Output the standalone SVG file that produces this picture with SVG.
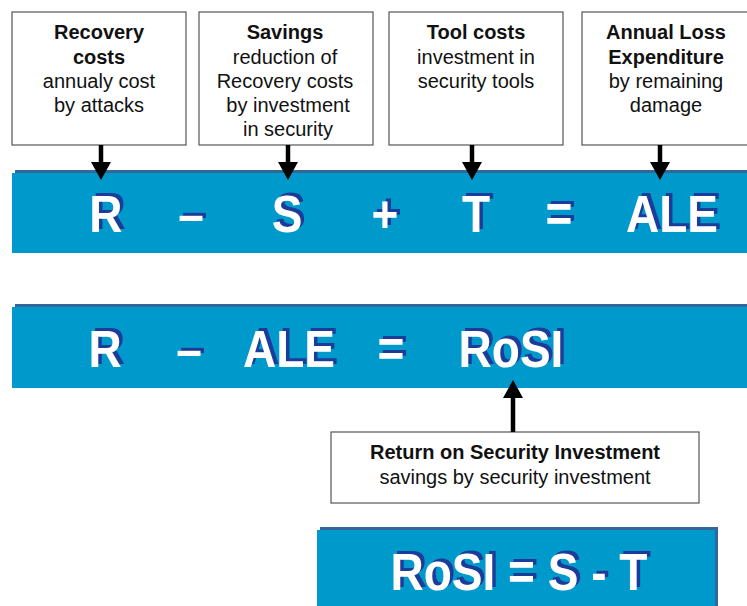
<svg xmlns="http://www.w3.org/2000/svg" xmlns:xlink="http://www.w3.org/1999/xlink" width="747" height="606" viewBox="0 0 747 606">
<style>
.box{fill:#ffffff;stroke:#555555;stroke-width:1.2}
.bt{font-family:"Liberation Sans",Arial,sans-serif;font-size:20px;fill:#111111;text-anchor:middle}
.b{font-weight:bold}
.band{fill:#0099cc}
.bandsh{fill:#336699}
.eq{font-family:"Liberation Sans",Arial,sans-serif;font-size:46px;font-weight:bold;text-anchor:middle}
.sh{fill:#1c3c99}
.wt{fill:#ffffff}
.conn{stroke:#000000;stroke-width:4.5;fill:none}
</style>
<defs>
<marker id="ah" viewBox="0 0 18 20" refX="0" refY="10" markerWidth="18" markerHeight="20" markerUnits="userSpaceOnUse" orient="auto">
<path d="M0,0 L18,10 L0,20 z" fill="#000000"/>
</marker>
<g id="eq1">
<text class="eq" x="106" y="0">R</text>
<text class="eq" x="191" y="0">–</text>
<text class="eq" x="287" y="0">S</text>
<text class="eq" x="385" y="0">+</text>
<text class="eq" x="476" y="0">T</text>
<text class="eq" x="559" y="0">=</text>
<text class="eq" x="672" y="0">ALE</text>
</g>
<g id="eq2">
<text class="eq" x="105" y="0">R</text>
<text class="eq" x="189" y="0">–</text>
<text class="eq" x="289" y="0">ALE</text>
<text class="eq" x="391" y="0">=</text>
<text class="eq" x="511" y="0">RoSI</text>
</g>
<g id="eq3">
<text class="eq" x="519" y="0">RoSI = S - T</text>
</g>
</defs>

<g id="band1">
<rect class="bandsh" x="15" y="170" width="745" height="80"/>
<rect class="band" x="12" y="173" width="745" height="80"/>
<g transform="translate(0,232) scale(1,1.13)">
<use xlink:href="#eq1" class="sh" transform="translate(3.5,-2.8)"/>
<use xlink:href="#eq1" class="wt"/>
</g>
</g>

<g id="band2">
<rect class="bandsh" x="15" y="304" width="745" height="81"/>
<rect class="band" x="12" y="307" width="745" height="81"/>
<g transform="translate(0,367) scale(1,1.13)">
<use xlink:href="#eq2" class="sh" transform="translate(3.5,-2.8)"/>
<use xlink:href="#eq2" class="wt"/>
</g>
</g>

<g id="band3">
<rect class="bandsh" x="320" y="527" width="398" height="85"/>
<rect class="band" x="317" y="530" width="398" height="85"/>
<g transform="translate(0,590) scale(1,1.13)">
<use xlink:href="#eq3" class="sh" transform="translate(3.5,-2.8)"/>
<use xlink:href="#eq3" class="wt"/>
</g>
</g>

<g id="box-recovery">
<rect class="box" x="12" y="12" width="174" height="133"/>
<text class="bt b" x="99" y="39">Recovery</text>
<text class="bt b" x="99" y="64">costs</text>
<text class="bt" x="99" y="88">annualy cost</text>
<text class="bt" x="99" y="112">by attacks</text>
</g>

<g id="box-savings">
<rect class="box" x="199" y="12" width="174" height="133"/>
<text class="bt b" x="285" y="39">Savings</text>
<text class="bt" x="285" y="64">reduction of</text>
<text class="bt" x="285" y="88">Recovery costs</text>
<text class="bt" x="288" y="112">by investment</text>
<text class="bt" x="288" y="136">in security</text>
</g>

<g id="box-tool">
<rect class="box" x="389" y="12" width="174" height="133"/>
<text class="bt b" x="476" y="39">Tool costs</text>
<text class="bt" x="476" y="64">investment in</text>
<text class="bt" x="476" y="88">security tools</text>
</g>

<g id="box-ale">
<rect class="box" x="582" y="12" width="174" height="133"/>
<text class="bt b" x="666" y="39">Annual Loss</text>
<text class="bt b" x="666" y="64">Expenditure</text>
<text class="bt" x="666" y="88">by remaining</text>
<text class="bt" x="666" y="112">damage</text>
</g>

<g id="box-rosi">
<rect class="box" x="331" y="432" width="368" height="71"/>
<text class="bt b" x="515" y="459">Return on Security Investment</text>
<text class="bt" x="515" y="484">savings by security investment</text>
</g>

<g id="connectors">
<line class="conn" x1="101" y1="145" x2="101" y2="162" marker-end="url(#ah)"/>
<line class="conn" x1="288" y1="145" x2="288" y2="162" marker-end="url(#ah)"/>
<line class="conn" x1="472" y1="145" x2="472" y2="162" marker-end="url(#ah)"/>
<line class="conn" x1="660" y1="145" x2="660" y2="162" marker-end="url(#ah)"/>
<line class="conn" x1="513" y1="432" x2="513" y2="398" marker-end="url(#ah)"/>
</g>
</svg>
